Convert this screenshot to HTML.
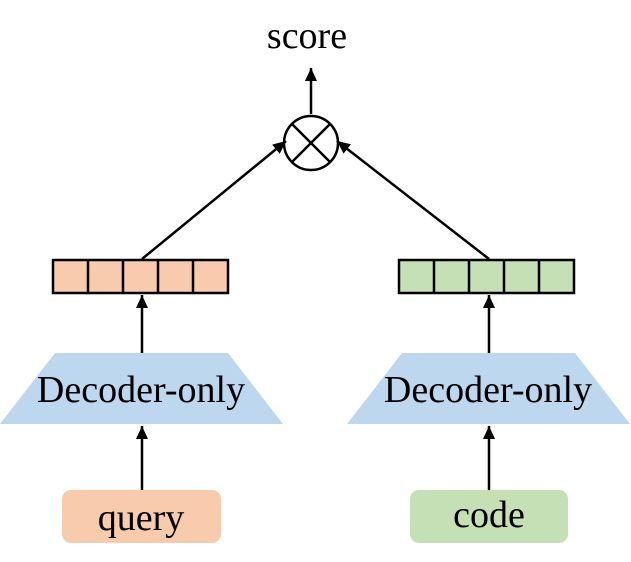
<!DOCTYPE html>
<html><head><style>body{margin:0;background:#fff}svg{display:block}</style></head><body>
<svg width="631" height="562" viewBox="0 0 631 562" xmlns="http://www.w3.org/2000/svg">
<defs><marker id="a" markerWidth="14" markerHeight="14" refX="13" refY="6" orient="auto" markerUnits="userSpaceOnUse"><path d="M0,0 L13,6 L0,12 z" fill="#000"/></marker></defs>
<g font-family="Liberation Serif, serif" fill="#000">
<text x="307" y="48" font-size="38" text-anchor="middle">score</text>
<line x1="311" y1="114" x2="311" y2="68" stroke="#000" stroke-width="2.5" marker-end="url(#a)"/>
<circle cx="311" cy="143" r="27" fill="#fff" stroke="#000" stroke-width="2.5"/>
<line x1="292" y1="124" x2="330" y2="162" stroke="#000" stroke-width="2.5"/>
<line x1="330" y1="124" x2="292" y2="162" stroke="#000" stroke-width="2.5"/>
<line x1="142" y1="259" x2="286" y2="141" stroke="#000" stroke-width="2.5" marker-end="url(#a)"/>
<line x1="489" y1="259" x2="337" y2="141" stroke="#000" stroke-width="2.5" marker-end="url(#a)"/>
<g stroke="#000" stroke-width="2.5">
<rect x="53" y="260" width="175" height="33" fill="#f8cbad"/>
<line x1="88" y1="260" x2="88" y2="293"/><line x1="123" y1="260" x2="123" y2="293"/><line x1="158" y1="260" x2="158" y2="293"/><line x1="193" y1="260" x2="193" y2="293"/>
<rect x="399" y="260" width="175" height="33" fill="#c5e0b4"/>
<line x1="434" y1="260" x2="434" y2="293"/><line x1="469" y1="260" x2="469" y2="293"/><line x1="504" y1="260" x2="504" y2="293"/><line x1="539" y1="260" x2="539" y2="293"/>
</g>
<polygon points="55,353 228,353 283,424 0,424" fill="#bdd7ee"/>
<polygon points="402,353 575,353 630,424 347,424" fill="#bdd7ee"/>
<text x="141" y="402" font-size="38" text-anchor="middle">Decoder-only</text>
<text x="488" y="402" font-size="38" text-anchor="middle">Decoder-only</text>
<line x1="142" y1="353" x2="142" y2="295" stroke="#000" stroke-width="2.5" marker-end="url(#a)"/>
<line x1="489" y1="353" x2="489" y2="295" stroke="#000" stroke-width="2.5" marker-end="url(#a)"/>
<line x1="142" y1="490" x2="142" y2="426" stroke="#000" stroke-width="2.5" marker-end="url(#a)"/>
<line x1="489" y1="490" x2="489" y2="426" stroke="#000" stroke-width="2.5" marker-end="url(#a)"/>
<rect x="62" y="490" width="159" height="53" rx="9" fill="#f8cbad"/>
<rect x="410" y="490" width="158" height="53" rx="9" fill="#c5e0b4"/>
<text x="141" y="530" font-size="38" text-anchor="middle">query</text>
<text x="489" y="527" font-size="38" text-anchor="middle">code</text>
</g>
</svg>
</body></html>
